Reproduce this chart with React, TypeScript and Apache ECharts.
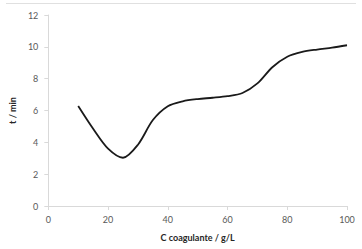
import React, { useEffect, useRef } from "react";
import * as echarts from "echarts";

const xValues = [10, 15, 20, 25, 30, 35, 40, 45, 50, 55, 60, 65, 70, 75, 80, 85, 90, 95, 100];
const tValues = [6.28, 4.85, 3.6, 3.03, 3.85, 5.4, 6.27, 6.58, 6.72, 6.8, 6.9, 7.1, 7.7, 8.72, 9.38, 9.68, 9.83, 9.95, 10.1];

const xAxisName = "C coagulante / g/L";
const yAxisName = "t / min";

export default function App() {
  const ref = useRef<HTMLDivElement>(null);
  useEffect(() => {
    if (!ref.current) return;
    const chart = echarts.init(ref.current, undefined, { renderer: "svg" });
    const axisLineColor = "#d9d9d9";
    const labelColor = "#595959";
    const font = "Lato, 'Open Sans', sans-serif";
    chart.setOption({
      animation: false,
      grid: { left: 45, right: 15, top: 15, bottom: 43 },
      graphic: [
        {
          type: "line",
          shape: { x1: 6, y1: 3.5, x2: 356, y2: 3.5 },
          style: { stroke: "#e0e0e0", lineWidth: 1 },
        },
      ],
      xAxis: {
        type: "value",
        min: 0,
        max: 100,
        interval: 20,
        name: xAxisName,
        nameLocation: "middle",
        nameGap: 27,
        nameTextStyle: { color: "#262626", fontWeight: "bold", fontSize: 9, fontFamily: font },
        axisLine: { show: true, lineStyle: { color: axisLineColor } },
        axisTick: { show: true, length: 4, lineStyle: { color: axisLineColor } },
        axisLabel: { color: labelColor, fontSize: 9, fontFamily: font, margin: 9 },
        splitLine: { show: false },
      },
      yAxis: {
        type: "value",
        min: 0,
        max: 12,
        interval: 2,
        name: yAxisName,
        nameLocation: "middle",
        nameGap: 28,
        nameTextStyle: { color: "#262626", fontWeight: "bold", fontSize: 9, fontFamily: font },
        axisLine: { show: true, lineStyle: { color: axisLineColor } },
        axisTick: { show: true, length: 4, lineStyle: { color: axisLineColor } },
        axisLabel: { color: labelColor, fontSize: 9, fontFamily: font, margin: 10 },
        splitLine: { show: false },
      },
      series: [
        {
          type: "line",
          data: xValues.map((x, i) => [x, tValues[i]]),
          smooth: 0.3,
          showSymbol: false,
          lineStyle: { color: "#1a1a1a", width: 1.8 },
        },
      ],
    });
    return () => chart.dispose();
  }, []);
  return <div ref={ref} style={{ width: 362, height: 249, position: "absolute", left: 0, top: 0 }} />;
}
